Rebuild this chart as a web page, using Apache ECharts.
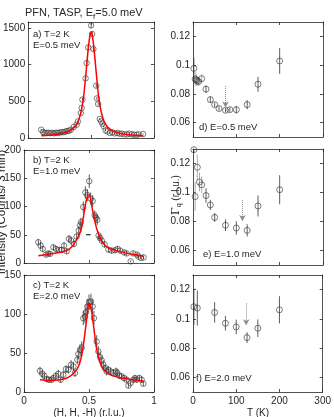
<!DOCTYPE html>
<html>
<head>
<meta charset="utf-8">
<script src="https://cdn.jsdelivr.net/npm/echarts@6/dist/echarts.min.js"></script>
<style>
html, body { margin: 0; padding: 0; background: #fff; }
#chart { width: 334px; height: 417px; }
</style>
</head>
<body>
<div id="chart"></div>
<script>
// q scans at T=2 K, rows are [q, counts, err]
const scanA = [
  [0.103, 113, 11], [0.118, 80, 9], [0.13, 70, 8], [0.145, 68, 8], [0.16, 72, 8], [0.175, 66, 8],
  [0.19, 70, 8], [0.205, 64, 8], [0.22, 72, 8], [0.235, 68, 8], [0.25, 75, 9], [0.265, 80, 9],
  [0.28, 78, 9], [0.295, 88, 9], [0.31, 95, 10], [0.325, 100, 10], [0.339, 113, 11], [0.362, 150, 12],
  [0.385, 181, 13], [0.395, 226, 15], [0.418, 340, 18], [0.425, 409, 20], [0.431, 522, 23], [0.456, 812, 28],
  [0.464, 1021, 32], [0.477, 1234, 35], [0.5, 1534, 39], [0.508, 1416, 38], [0.518, 1212, 35], [0.541, 712, 27],
  [0.546, 539, 23], [0.556, 463, 22], [0.569, 259, 16], [0.579, 226, 15], [0.59, 195, 14], [0.6, 158, 13],
  [0.615, 104, 10], [0.63, 90, 9], [0.649, 68, 8], [0.669, 77, 9], [0.687, 63, 8], [0.708, 68, 8],
  [0.726, 59, 8], [0.744, 59, 8], [0.764, 50, 7], [0.785, 50, 7], [0.803, 59, 8], [0.823, 50, 7],
  [0.841, 45, 7], [0.862, 45, 7], [0.879, 50, 7], [0.913, 54, 7]
]
const fitA = [
  [0.105, 32], [0.2, 45], [0.3, 75], [0.35, 120], [0.39, 200], [0.42, 360], [0.44, 560], [0.46, 900],
  [0.475, 1180], [0.49, 1390], [0.5, 1445], [0.51, 1390], [0.525, 1180], [0.54, 900], [0.56, 560],
  [0.58, 360], [0.61, 200], [0.65, 120], [0.7, 75], [0.8, 45], [0.915, 32]
]
const scanB = [
  [0.11, 36.7, 6], [0.128, 30.8, 6], [0.144, 24.9, 5], [0.169, 14.8, 4], [0.187, 17.1, 4], [0.2, 16, 4],
  [0.226, 27.8, 5], [0.246, 24.9, 5], [0.271, 23.2, 5], [0.29, 23.2, 5], [0.308, 30.8, 6], [0.328, 20.7, 5],
  [0.346, 42.7, 7], [0.362, 39.7, 7], [0.385, 33.8, 6], [0.405, 46.8, 7], [0.421, 57.5, 8], [0.431, 66.4, 8],
  [0.438, 72.3, 8], [0.456, 99, 10], [0.472, 124.7, 11], [0.487, 120, 11], [0.502, 144.8, 12], [0.513, 114, 11],
  [0.528, 109.7, 10], [0.544, 84.2, 9], [0.554, 80, 9], [0.564, 76.6, 9], [0.574, 48.6, 7], [0.585, 44.5, 7],
  [0.598, 39.7, 6], [0.62, 33, 6], [0.649, 23.7, 5], [0.674, 21.9, 5], [0.7, 22.5, 5], [0.72, 25, 5],
  [0.74, 21.9, 5], [0.77, 18.7, 4], [0.79, 17, 4], [0.821, 2.9, 2], [0.84, 17, 4], [0.87, 14.8, 4],
  [0.88, 11.3, 3], [0.9, 8.9, 3], [0.92, 10, 3]
]
const fitB = [
  [0.11, 13], [0.2, 16], [0.3, 20], [0.35, 25], [0.385, 34], [0.43, 53], [0.456, 80], [0.478, 110],
  [0.5, 121], [0.51, 116], [0.53, 90], [0.56, 60], [0.59, 42], [0.64, 28], [0.72, 21], [0.82, 16], [0.92, 12]
]
// instrument resolution bar in b)
const resBarB = [[0.477, 50], [0.513, 50]]
const scanC = [
  [0.123, 27.2, 5], [0.141, 23.4, 5], [0.156, 20.8, 4], [0.174, 16.6, 4], [0.192, 15.7, 4], [0.213, 15.7, 4],
  [0.225, 17.9, 4], [0.246, 20.8, 4], [0.264, 23.4, 5], [0.282, 15.7, 4], [0.302, 22.1, 5], [0.323, 29.4, 5],
  [0.341, 28.5, 5], [0.362, 34.9, 6], [0.38, 32.7, 6], [0.392, 24.3, 5], [0.41, 41.3, 6], [0.418, 48.6, 7],
  [0.431, 54, 7], [0.444, 57, 8], [0.456, 94.6, 9], [0.469, 96.7, 9], [0.477, 102.3, 10], [0.487, 109.5, 10],
  [0.5, 115, 10], [0.515, 116, 10], [0.528, 109.5, 10], [0.538, 94.6, 9], [0.559, 64.7, 8], [0.572, 52, 7],
  [0.585, 44.8, 7], [0.598, 40.4, 6], [0.61, 34.9, 6], [0.623, 30.7, 5], [0.636, 26.3, 5], [0.649, 28.5, 5],
  [0.667, 26.3, 5], [0.687, 24.3, 5], [0.708, 26.3, 5], [0.718, 24.3, 5], [0.733, 20.8, 4], [0.751, 20, 4],
  [0.769, 17.9, 4], [0.79, 15.7, 4], [0.803, 8.1, 3], [0.82, 11.5, 3], [0.841, 15.7, 4], [0.854, 17.9, 4],
  [0.867, 15.7, 4], [0.887, 17.9, 4], [0.905, 15.7, 4], [0.918, 10.6, 3]
]
const fitC = [
  [0.123, 15.7], [0.2, 15], [0.33, 18], [0.41, 30], [0.444, 47], [0.47, 77], [0.487, 100], [0.5, 114],
  [0.515, 108], [0.535, 85], [0.56, 54], [0.6, 32], [0.665, 22], [0.79, 17], [0.918, 14]
]

// linewidth vs temperature, rows are [T, gamma, err]
const gammaD = [
  [2, 0.0977, 0.0075], [5, 0.0903, 0.005], [8, 0.0897, 0.004], [10, 0.089, 0.003], [13, 0.0885, 0.003],
  [20, 0.0906, 0.003], [30, 0.0833, 0.0026], [40, 0.076, 0.0023], [50, 0.0725, 0.0015], [60, 0.0698, 0.0015],
  [75, 0.0686, 0.0015], [85, 0.069, 0.0015], [100, 0.069, 0.0027], [125, 0.0725, 0.0032], [150, 0.0867, 0.0052],
  [200, 0.1029, 0.009]
]
const gammaE = [
  [2, 0.1295, 0.002], [5, 0.0972, 0.01], [10, 0.1174, 0.0087], [15, 0.1072, 0.0064], [20, 0.1053, 0.0058],
  [30, 0.0979, 0.005], [40, 0.0914, 0.0035], [50, 0.0828, 0.003], [75, 0.0774, 0.004], [100, 0.0755, 0.0047],
  [125, 0.0739, 0.0042], [150, 0.0907, 0.0072], [200, 0.1019, 0.01]
]
const gammaF = [
  [2, 0.1083, 0.0125], [10, 0.1074, 0.012], [50, 0.1044, 0.007], [75, 0.097, 0.005], [100, 0.0945, 0.005],
  [125, 0.0872, 0.0037], [150, 0.0936, 0.006], [200, 0.1062, 0.0093]
]
// dotted arrows marking the minimum
const arrowD = [[75, 0.0855], [75, 0.0705]]
const arrowE = [[114, 0.0949], [114, 0.0804]]
const arrowF = [[123, 0.1106], [123, 0.0957]]

const qTicks = [0, 0.5, 1]
const tTicks = [0, 100, 200, 300]
const yTicksA = [0, 500, 1000, 1500]
const yTicksB = [0, 50, 100, 150, 200]
const yTicksC = [0, 50, 100, 150]
const gammaTicks = [0.06, 0.08, 0.1, 0.12]

const panelText = [
  ['a) T=2 K', 'E=0.5 meV'],
  ['b) T=2 K', 'E=1.0 meV'],
  ['c) T=2 K', 'E=2.0 meV'],
  ['d) E=0.5 meV'],
  ['e) E=1.0 meV'],
  ['f) E=2.0 meV']
]

const INK = '#262626'
const FONT = '"Liberation Sans", Arial, sans-serif'

const panels = [
  { box: { left: 24, top: 22, width: 130, height: 116 }, x: [0, 1], xt: qTicks, y: [0, 1580], yt: yTicksA },
  { box: { left: 24, top: 150, width: 130, height: 113 }, x: [0, 1], xt: qTicks, y: [0, 200], yt: yTicksB },
  { box: { left: 24, top: 275, width: 130, height: 117 }, x: [0, 1], xt: qTicks, y: [0, 150], yt: yTicksC, xLabels: true },
  { box: { left: 193, top: 22, width: 130, height: 115 }, x: [0, 300], xt: tTicks, y: [0.05, 0.13], yt: gammaTicks },
  { box: { left: 193, top: 149, width: 130, height: 116 }, x: [0, 300], xt: tTicks, y: [0.05, 0.13], yt: gammaTicks },
  { box: { left: 193, top: 275, width: 130, height: 117 }, x: [0, 300], xt: tTicks, y: [0.05, 0.13], yt: gammaTicks, xLabels: true }
]

const grids = []
const xAxes = []
const yAxes = []
const series = []
const graphics = []

function axis(i, range, ticks, position, showLabel) {
  return {
    gridIndex: i,
    type: 'value',
    position: position,
    min: range[0],
    max: range[1],
    axisLine: { show: true, onZero: false, lineStyle: { color: INK, width: 0.8 } },
    axisTick: { show: true, inside: true, length: 3, customValues: ticks, lineStyle: { color: INK, width: 0.8 } },
    axisLabel: {
      show: showLabel, customValues: ticks, color: INK, fontSize: 10, fontFamily: FONT,
      margin: (position === 'bottom') ? 4 : 3,
      formatter: v => String(v)
    },
    splitLine: { show: false }
  }
}

panels.forEach((p, i) => {
  grids.push(Object.assign({ containLabel: false }, p.box))
  xAxes.push(axis(i, p.x, p.xt, 'bottom', !!p.xLabels))
  xAxes.push(axis(i, p.x, p.xt, 'top', false))
  yAxes.push(axis(i, p.y, p.yt, 'left', true))
  yAxes.push(axis(i, p.y, p.yt, 'right', false))
})

function errorBars(i, rows, grayBelow) {
  return {
    type: 'custom',
    xAxisIndex: i * 2,
    yAxisIndex: i * 2,
    silent: true,
    data: rows,
    renderItem(params, api) {
      const x = api.value(0)
      const y = api.value(1)
      const e = api.value(2)
      const lo = api.coord([x, y - e])
      const hi = api.coord([x, y + e])
      const cs = params.coordSys
      const top = Math.max(hi[1], cs.y)
      const bot = Math.min(lo[1], cs.y + cs.height)
      const gray = grayBelow && x > 2 && x <= grayBelow
      return {
        type: 'line',
        shape: { x1: lo[0], y1: top, x2: lo[0], y2: bot },
        style: { stroke: gray ? '#9a9a9a' : '#333', lineWidth: 0.8 }
      }
    }
  }
}

function points(i, rows, size) {
  return {
    type: 'scatter',
    xAxisIndex: i * 2,
    yAxisIndex: i * 2,
    silent: true,
    symbol: 'circle',
    symbolSize: size,
    data: rows.map(r => [r[0], r[1]]),
    itemStyle: { color: 'rgba(0,0,0,0)', borderColor: '#333', borderWidth: 0.8 },
    z: 3
  }
}

function fitLine(i, rows) {
  return {
    type: 'line',
    xAxisIndex: i * 2,
    yAxisIndex: i * 2,
    silent: true,
    smooth: 0.3,
    showSymbol: false,
    data: rows,
    lineStyle: { color: '#ff0000', width: 1.5 },
    z: 4
  }
}

function arrow(i, rows) {
  return {
    type: 'line',
    xAxisIndex: i * 2,
    yAxisIndex: i * 2,
    silent: true,
    data: [],
    markLine: {
      silent: true,
      animation: false,
      label: { show: false },
      symbol: ['none', 'arrow'],
      symbolSize: [5, 6],
      lineStyle: { color: '#8c8c8c', type: 'dotted', width: 1 },
      data: [[{ coord: rows[0] }, { coord: rows[1] }]]
    }
  }
}

const scans = [scanA, scanB, scanC]
const fits = [fitA, fitB, fitC]
scans.forEach((rows, i) => {
  series.push(errorBars(i, rows, 0))
  series.push(points(i, rows, 5.5))
  series.push(fitLine(i, fits[i]))
})
series.push({
  type: 'line', xAxisIndex: 2, yAxisIndex: 2, silent: true, showSymbol: false,
  data: resBarB, lineStyle: { color: '#000', width: 1.2 }
})

const gammas = [gammaD, gammaE, gammaF]
const arrows = [arrowD, arrowE, arrowF]
gammas.forEach((rows, k) => {
  const i = k + 3
  series.push(errorBars(i, rows, k < 2 ? 20 : 0))
  series.push(points(i, rows, 6))
  series.push(arrow(i, arrows[k]))
})

// panel captions
const captionPos = [[33, 34], [33, 160], [33, 285], [199, 127], [203, 254], [196, 378]]
panelText.forEach((lines, i) => {
  lines.forEach((t, j) => {
    graphics.push({
      type: 'text', x: captionPos[i][0], y: captionPos[i][1] + j * 11.5,
      style: { text: t, fontSize: 9.5, fontFamily: FONT, fill: INK, verticalAlign: 'middle' }
    })
  })
})

graphics.push({
  type: 'text', x: 25, y: 13,
  style: {
    text: 'PFN, TASP, E{s|f}=5.0 meV', fontSize: 11, fontFamily: FONT, fill: INK, verticalAlign: 'middle',
    rich: { s: { fontSize: 8, fontFamily: FONT, fill: INK, padding: [7, 0, 0, 0] } }
  }
})
graphics.push({
  type: 'text', x: 89, y: 413,
  style: { text: '(H, H, -H) (r.l.u.)', fontSize: 10, fontFamily: FONT, fill: INK, align: 'center', verticalAlign: 'middle' }
})
graphics.push({
  type: 'text', x: 258, y: 413,
  style: { text: 'T (K)', fontSize: 10, fontFamily: FONT, fill: INK, align: 'center', verticalAlign: 'middle' }
})
graphics.push({
  type: 'text', x: 2, y: 212, rotation: Math.PI / 2,
  style: { text: 'Intensity (Counts/ 3 min)', fontSize: 11.5, fontFamily: FONT, fill: INK, align: 'center', verticalAlign: 'middle' }
})
graphics.push({
  type: 'text', x: 176, y: 195, rotation: Math.PI / 2,
  style: {
    text: '{g|Γ}{s|q} (r.l.u.)', fontSize: 10, fontFamily: FONT, fill: INK, align: 'center', verticalAlign: 'middle',
    rich: {
      g: { fontSize: 11, fontFamily: '"DejaVu Serif", serif', fill: INK },
      s: { fontSize: 7, fontFamily: FONT, fill: INK, padding: [6, 0, 0, 0] }
    }
  }
})

const chart = echarts.init(document.getElementById('chart'))
chart.setOption({
  animation: false,
  backgroundColor: '#fff',
  grid: grids,
  xAxis: xAxes,
  yAxis: yAxes,
  series: series,
  graphic: graphics
})
</script>
</body>
</html>
